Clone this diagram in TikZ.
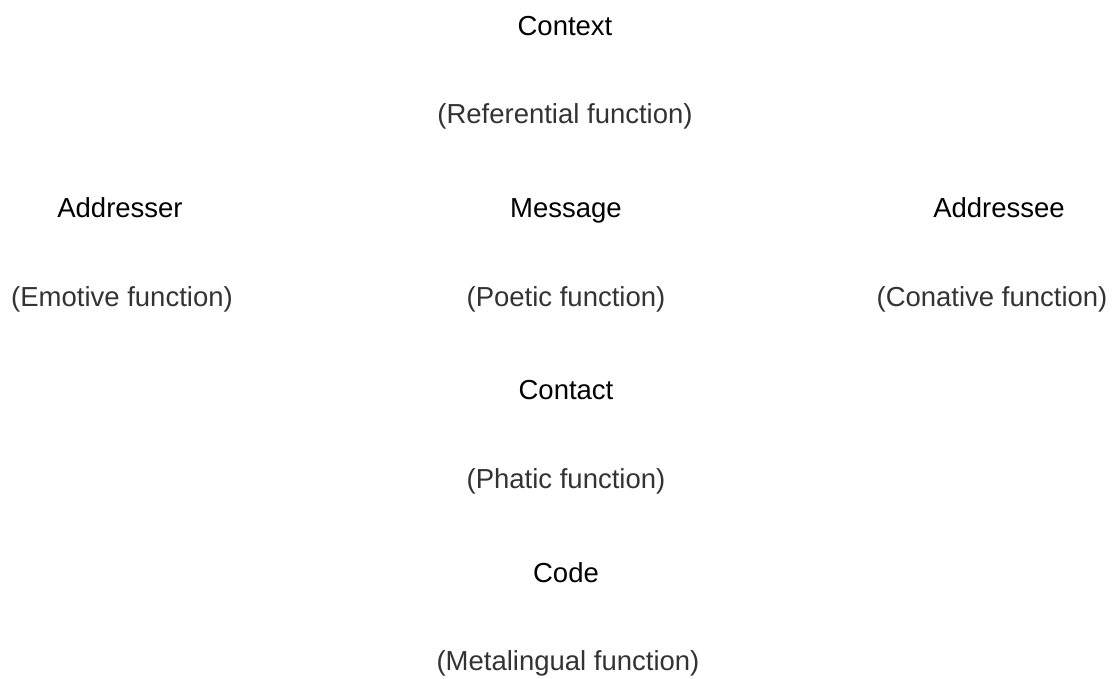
\documentclass[tikz,border=0pt]{standalone}
\usepackage{fontspec}
\setmainfont{Liberation Sans}
\usetikzlibrary{positioning}
\tikzset{
  factor/.style={anchor=base, inner sep=0pt, font=\fontsize{27.5}{32}\selectfont},
  func/.style={anchor=base, inner sep=0pt, text=black!80, font=\fontsize{27.5}{32}\selectfont},
}

\begin{document}
\begin{tikzpicture}[x=1pt,y=-1pt]
  \useasboundingbox (0,0) rectangle (1113,678);
  % top
  \node[factor] (context) at (565,35) {Context};
  \node[func] (referential) at (565,123) {(Referential function)};
  % middle row
  \node[factor] (addresser) at (120,217) {Addresser};
  \node[factor] (message) at (566,217) {Message};
  \node[factor] (addressee) at (999,217) {Addressee};
  \node[func] (emotive) at (122,306) {(Emotive function)};
  \node[func] (poetic) at (566,306) {(Poetic function)};
  \node[func] (conative) at (992,306) {(Conative function)};
  % bottom
  \node[factor] (contact) at (566,399) {Contact};
  \node[func] (phatic) at (566,488) {(Phatic function)};
  \node[factor] (code) at (566,582) {Code};
  \node[func] (metalingual) at (568,670) {(Metalingual function)};
\end{tikzpicture}
\end{document}
